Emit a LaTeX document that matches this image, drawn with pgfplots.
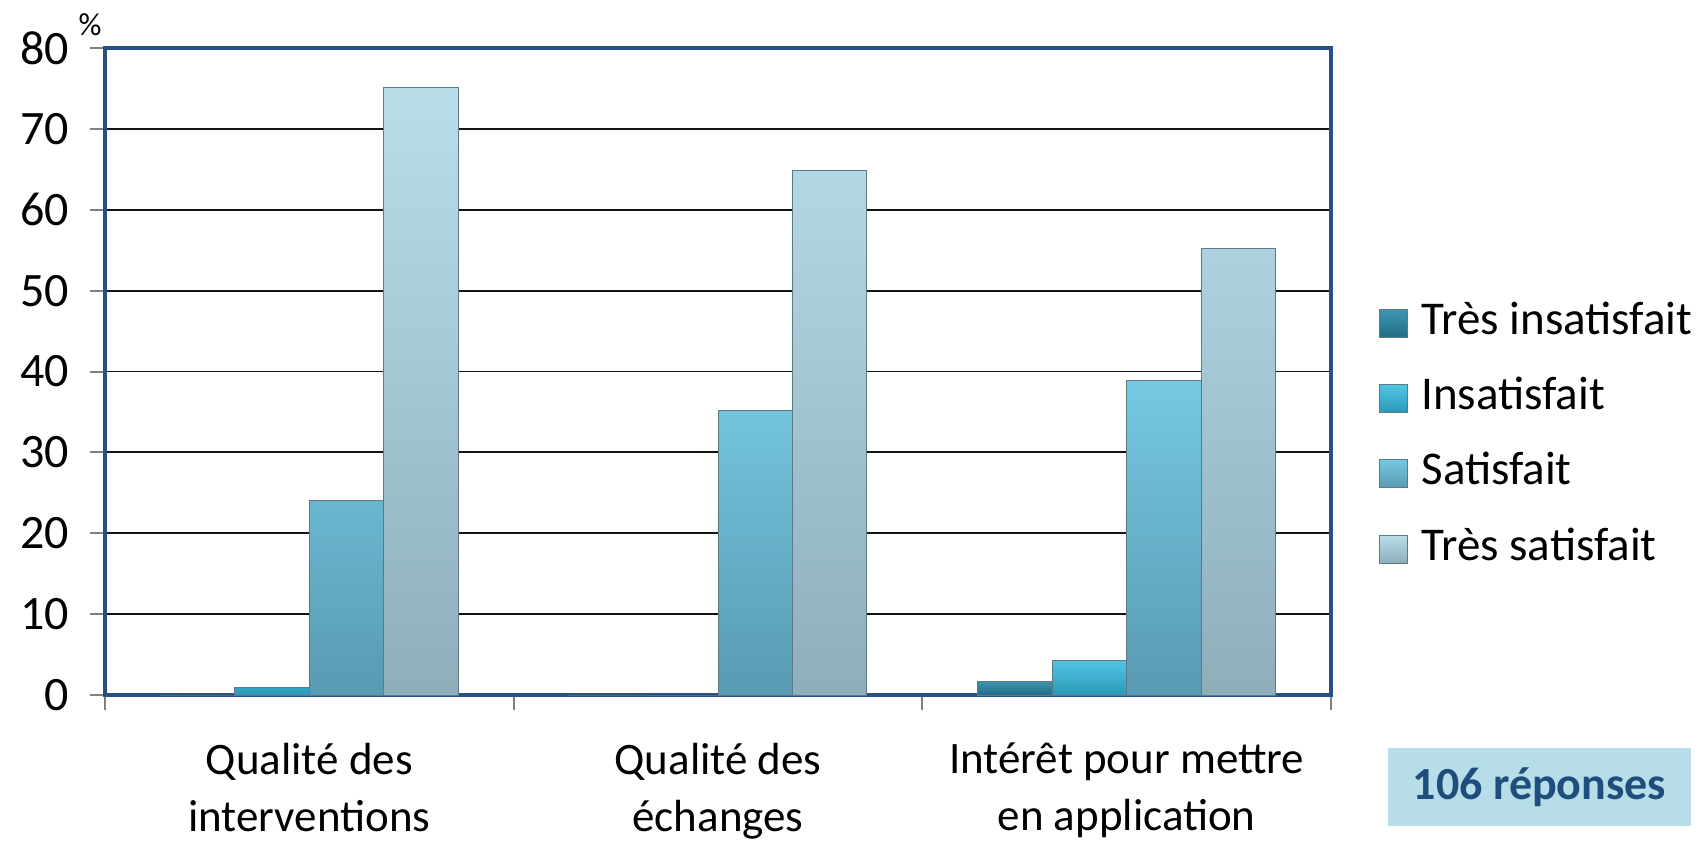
\documentclass[border=0pt]{standalone}
\usepackage{pgfplots}
\pgfplotsset{compat=1.18}
\usepackage{fontspec}
\setmainfont{Carlito}
\definecolor{frameblue}{RGB}{40,80,135}
\definecolor{gridblack}{RGB}{20,20,20}
\definecolor{tiA}{RGB}{62,150,178}
\definecolor{tiB}{RGB}{34,108,134}
\definecolor{inA}{RGB}{80,198,228}
\definecolor{inB}{RGB}{44,152,184}
\definecolor{saA}{RGB}{118,200,226}
\definecolor{saB}{RGB}{88,154,178}
\definecolor{tsA}{RGB}{184,222,236}
\definecolor{tsB}{RGB}{142,174,186}
\definecolor{edgec}{RGB}{95,120,130}
\definecolor{boxfill}{RGB}{183,221,232}
\definecolor{boxtext}{RGB}{31,78,124}
\begin{document}
\begin{tikzpicture}
\begin{axis}[
  scale only axis,
  width=613pt, height=323.5pt,
  ybar=0pt, bar width=37.2pt,
  xmin=-0.5, xmax=2.5,
  ymin=0, ymax=80,
  ytick={0,10,...,80},
  xtick={-0.5,0.5,1.5,2.5},
  xticklabels={},
  extra x ticks={0,1,2},
  extra x tick labels={{Qualité des\\interventions},{Qualité des\\échanges},{Intérêt pour mettre\\en application}},
  extra x tick style={major tick length=0pt, grid=none},
  xticklabel style={align=center, font=\fontsize{22.5}{28.5}\selectfont, yshift=-20.5pt},
  yticklabel style={font=\fontsize{24}{28}\selectfont, xshift=-7pt},
  /pgf/number format/assume math mode=true,
  xtick pos=bottom, ytick pos=left,
  tick align=outside,
  major tick length=7.5pt,
  tick style={draw=gray, line width=1pt},
  ymajorgrids, grid style={draw=gridblack, line width=0.9pt},
  axis line style={draw=frameblue, line width=2pt},
  legend style={at={(1.0392,0.400)}, anchor=west, draw=none, fill=none,
    inner sep=0pt, font=\fontsize{23.5}{27}\selectfont,
    nodes={inner sep=0pt, text height=16pt, text depth=5pt, anchor=west},
    row sep=16.6pt,
    /tikz/every odd column/.append style={column sep=6.5pt}},
  legend cell align=left,
  legend image code/.code={\draw[#1] (0pt,-7pt) rectangle (14pt,7pt);},
  clip=false,
]
\addplot[top color=tiA, bottom color=tiB, draw=edgec, line width=0.5pt] coordinates {(0,0) (1,0) (2,1.7)};
\addplot[top color=inA, bottom color=inB, draw=edgec, line width=0.5pt] coordinates {(0,0.9) (1,0) (2,4.3)};
\addplot[top color=saA, bottom color=saB, draw=edgec, line width=0.5pt] coordinates {(0,24.0) (1,35.2) (2,38.9)};
\addplot[top color=tsA, bottom color=tsB, draw=edgec, line width=0.5pt] coordinates {(0,75.1) (1,64.8) (2,55.2)};
\legend{Très insatisfait, Insatisfait, Satisfait, Très satisfait}
\end{axis}
\node[font=\fontsize{16}{18}\selectfont] at (-7.5pt,335pt) {\%};
\node[fill=boxfill, text=boxtext, font=\fontsize{23}{26}\bfseries\selectfont, minimum width=151.5pt, minimum height=39pt, inner sep=0pt] at (717.25pt,-46pt) {106 réponses};
\pgfresetboundingbox
\path[use as bounding box] (-52.5pt,-73pt) rectangle (797.5pt,347.5pt);
\end{tikzpicture}
\end{document}
